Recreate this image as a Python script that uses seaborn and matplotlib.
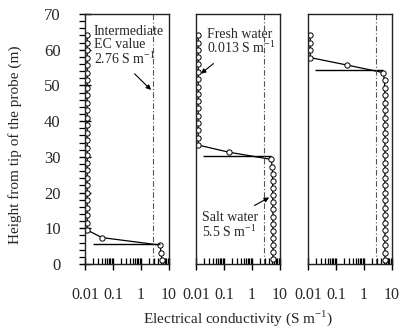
import numpy as np
import pandas as pd
import matplotlib
matplotlib.use("Agg")
import matplotlib.pyplot as plt
from matplotlib.ticker import FixedLocator, LogLocator, NullFormatter, FixedFormatter, MultipleLocator
import seaborn as sns

sns.set_style("ticks")
plt.rcParams['font.family'] = ['Liberation Serif', 'DejaVu Serif']
plt.rcParams['mathtext.fontset'] = 'custom'
plt.rcParams['mathtext.rm'] = 'Liberation Serif'

# ---------------- data ----------------
heights_1 = [1.1, 3.2, 5.3, 7.4, 9.5, 11.6, 13.7, 15.8, 17.9, 20.0, 22.1, 24.2, 26.3, 28.4,
             30.5, 32.6, 34.7, 36.8, 38.9, 41.0, 43.1, 45.2, 47.3, 49.4, 51.5, 53.6, 55.7,
             57.8, 59.9, 62.0, 64.1]
ec_1 = [5.6, 5.2, 4.8, 0.04, 0.012, 0.012, 0.012, 0.012, 0.012, 0.012, 0.012, 0.012, 0.012,
        0.012, 0.012, 0.012, 0.012, 0.012, 0.012, 0.012, 0.012, 0.012, 0.012, 0.012, 0.012,
        0.012, 0.012, 0.012, 0.012, 0.012, 0.012]

heights_2 = [1.3, 3.3, 5.3, 7.3, 9.3, 11.3, 13.3, 15.3, 17.3, 19.3, 21.3, 23.3, 25.3, 27.3,
             29.3, 31.3, 33.3, 35.4, 37.4, 39.5, 41.5, 43.6, 45.6, 47.7, 49.7, 51.8, 53.8,
             55.9, 57.9, 60.0, 62.0, 64.1]
ec_2 = [5.6, 5.6, 5.6, 5.6, 5.6, 5.6, 5.6, 5.6, 5.5, 5.5, 5.5, 5.4, 5.4, 5.3, 4.8, 0.15,
        0.012, 0.012, 0.012, 0.012, 0.012, 0.012, 0.012, 0.012, 0.012, 0.012, 0.012, 0.012,
        0.012, 0.012, 0.012, 0.012]

heights_3 = [1.1, 3.2, 5.3, 7.4, 9.5, 11.6, 13.7, 15.8, 17.9, 20.0, 22.1, 24.2, 26.3, 28.4,
             30.5, 32.6, 34.7, 36.8, 38.9, 41.0, 43.1, 45.2, 47.3, 49.4, 51.5, 53.6, 55.7,
             57.8, 59.9, 62.0, 64.1]
ec_3 = [5.6, 5.6, 5.6, 5.6, 5.6, 5.6, 5.6, 5.6, 5.6, 5.6, 5.6, 5.6, 5.6, 5.6, 5.6, 5.6,
        5.6, 5.6, 5.6, 5.6, 5.6, 5.6, 5.6, 5.5, 5.4, 4.8, 0.25, 0.012, 0.012, 0.012, 0.012]

interface_heights = [5.5, 30.3, 54.3]
interface_x_start = [0.019, 0.018, 0.018]
interface_x_end = [4.8, 4.6, 4.6]

intermediate_ec = 2.76

xtick_vals = [0.01, 0.1, 1, 10]
xtick_labels = ["0.01", "0.1", "1", "10"]
ytick_vals = [0, 10, 20, 30, 40, 50, 60, 70]
ytick_labels = ["0", "10", "20", "30", "40", "50", "60", "70"]

# ---------------- figure ----------------
W, H = 407, 332
fig = plt.figure(figsize=(W / 100, H / 100), dpi=100)
lefts = [85, 196, 308]
axes = [fig.add_axes([l / W, (H - 264) / H, 84 / W, 250 / H]) for l in lefts]

datasets = [(ec_1, heights_1), (ec_2, heights_2), (ec_3, heights_3)]
for i, (ax, (ec, h)) in enumerate(zip(axes, datasets)):
    df = pd.DataFrame({"ec": ec, "h": h})
    sns.lineplot(data=df, x="ec", y="h", sort=False, estimator=None, ax=ax,
                 color="black", lw=0.9, marker="o", markersize=3.8,
                 markerfacecolor="white", markeredgecolor="black", markeredgewidth=0.7)
    ax.hlines(interface_heights[i], interface_x_start[i], interface_x_end[i],
              color="black", lw=1.0)
    ax.axvline(intermediate_ec, color="#555555", lw=0.8, ls=(0, (5, 2, 1, 2)))
    ax.set_xscale("log")
    ax.set_xlim(0.01, 10)
    ax.set_ylim(0, 70)
    ax.xaxis.set_major_locator(FixedLocator(xtick_vals))
    ax.xaxis.set_major_formatter(FixedFormatter(xtick_labels))
    ax.xaxis.set_minor_locator(LogLocator(base=10, subs=np.arange(2, 10)))
    ax.xaxis.set_minor_formatter(NullFormatter())
    ax.tick_params(axis="x", which="major", direction="inout", length=9, width=1.0,
                   labelsize=11.5, pad=12, color="black")
    ax.tick_params(axis="x", which="minor", direction="in", length=4, width=0.9, color="black")
    ax.set_xlabel("")
    ax.set_ylabel("")
    for s in ax.spines.values():
        s.set_visible(True)
        s.set_linewidth(1.0)
        s.set_color("#222222")
    if i == 0:
        ax.yaxis.set_major_locator(FixedLocator(ytick_vals))
        ax.yaxis.set_major_formatter(FixedFormatter(ytick_labels))
        ax.yaxis.set_minor_locator(MultipleLocator(2))
        ax.tick_params(axis="y", which="major", direction="inout", length=9, width=1.0,
                       labelsize=12, pad=13, color="black")
        ax.tick_params(axis="y", which="minor", direction="out", length=4, width=0.9,
                       color="black")
    else:
        ax.tick_params(axis="y", which="both", left=False, labelleft=False)
        ax.yaxis.set_minor_locator(plt.NullLocator())

tfs = 10
axes[0].text(0.021, 66.8, "Intermediate\nEC value\n2.76 S m$^{-1}$", fontsize=tfs,
             va="top", ha="left", linespacing=0.95)
axes[0].annotate("", xy=(2.7, 48.2), xytext=(0.5, 53.8),
                 arrowprops=dict(arrowstyle="-|>", color="black", lw=0.8, mutation_scale=7))
axes[1].text(0.025, 66.2, "Fresh water\n0.013 S m$^{-1}$", fontsize=tfs,
             va="top", ha="left", linespacing=0.95)
axes[1].annotate("", xy=(0.0125, 52.8), xytext=(0.05, 56.6),
                 arrowprops=dict(arrowstyle="-|>", color="black", lw=0.8, mutation_scale=7))
axes[1].text(0.0165, 14.8, "Salt water\n5.5 S m$^{-1}$", fontsize=tfs,
             va="top", ha="left", linespacing=0.95)
axes[1].annotate("", xy=(5.0, 19.0), xytext=(1.0, 16.0),
                 arrowprops=dict(arrowstyle="-|>", color="black", lw=0.8, mutation_scale=7))

fig.text(238 / W, 1 - 318 / H, "Electrical conductivity (S m$^{-1}$)", fontsize=11,
         ha="center", va="center")
fig.text(15 / W, 1 - 145 / H, "Height from tip of the probe (m)", fontsize=11,
         ha="center", va="center", rotation=90)

fig.savefig("out.png", dpi=100)
